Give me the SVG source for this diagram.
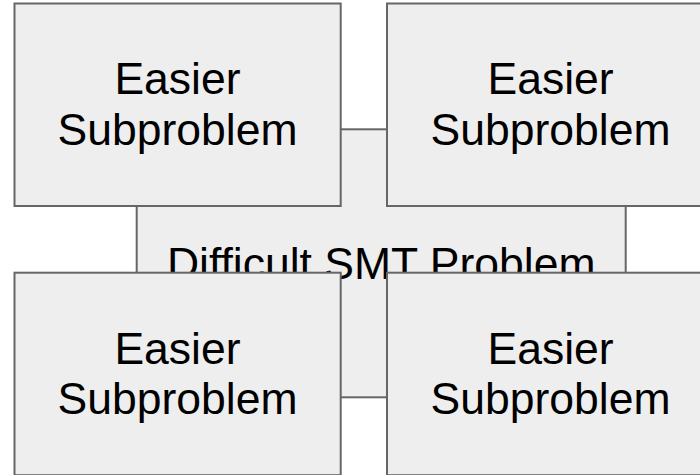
<svg xmlns="http://www.w3.org/2000/svg" width="700" height="475" viewBox="0 0 700 475">
  <style>
    .box { fill: #eeeeee; stroke: #666666; stroke-width: 2; }
    .label { font-family: "Liberation Sans", Arial, sans-serif; font-size: 44.5px; fill: #000000; text-anchor: middle; }
  </style>
  <rect width="700" height="475" fill="#ffffff"/>

  <!-- central problem, partly covered by the four subproblems -->
  <g id="difficult-problem">
    <rect class="box" x="136.7" y="129.3" width="489" height="268"/>
    <text class="label" x="381.2" y="279">Difficult SMT Problem</text>
  </g>

  <g id="subproblem-top-left">
    <rect class="box" x="14.5" y="3.5" width="326.2" height="202.5"/>
    <text class="label" x="177.5" y="94.3">Easier</text>
    <text class="label" x="177.5" y="145">Subproblem</text>
  </g>

  <g id="subproblem-top-right">
    <rect class="box" x="387" y="3.5" width="326.2" height="202.5"/>
    <text class="label" x="550.6" y="94.3">Easier</text>
    <text class="label" x="550.6" y="145">Subproblem</text>
  </g>

  <g id="subproblem-bottom-left">
    <rect class="box" x="14.5" y="272.7" width="326.2" height="202.5"/>
    <text class="label" x="177.5" y="363.5">Easier</text>
    <text class="label" x="177.5" y="414.2">Subproblem</text>
  </g>

  <g id="subproblem-bottom-right">
    <rect class="box" x="387" y="272.7" width="326.2" height="202.5"/>
    <text class="label" x="550.6" y="363.5">Easier</text>
    <text class="label" x="550.6" y="414.2">Subproblem</text>
  </g>
</svg>
